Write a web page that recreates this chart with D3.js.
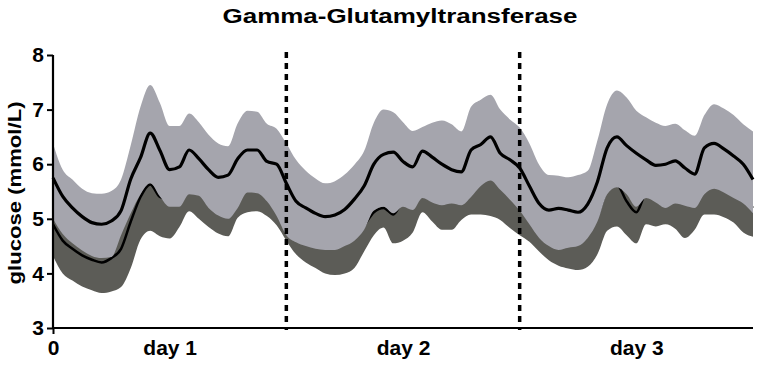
<!DOCTYPE html>
<html>
<head>
<meta charset="utf-8">
<script src="https://cdn.jsdelivr.net/npm/d3@7"></script>
<style>
  body { margin: 0; background: #fff; }
  text { font-family: "Liberation Sans", Arial, sans-serif; font-weight: bold; }
</style>
</head>
<body>
<div id="chart"></div>
<script>
// hours since start, one sample per hour over three days
const hours = d3.range(0, 73);

// upper group: mean with upper/lower band edge (light grey)
const upperHigh = [6.38,5.90,5.72,5.55,5.47,5.46,5.51,5.72,6.35,7.05,7.45,7.12,6.70,6.70,6.93,6.77,6.54,6.38,6.33,6.75,
  6.98,6.96,6.74,6.65,6.38,6.08,5.88,5.74,5.65,5.69,5.81,5.99,6.24,6.76,7.00,6.95,6.77,6.61,6.68,6.76,
  6.80,6.73,6.60,7.05,7.18,7.27,7.00,6.82,6.67,6.38,5.99,5.80,5.79,5.76,5.80,5.88,6.44,7.10,7.35,7.22,
  6.98,6.86,6.76,6.70,6.74,6.62,6.52,6.90,7.10,7.02,6.90,6.73,6.60];
const upperMean = [5.75,5.41,5.20,5.04,4.93,4.90,4.96,5.15,5.73,6.12,6.57,6.25,5.90,5.95,6.26,6.10,5.90,5.76,5.80,6.10,
  6.26,6.26,6.05,6.00,5.65,5.32,5.20,5.10,5.04,5.07,5.17,5.36,5.60,6.00,6.18,6.22,6.05,5.95,6.24,6.13,
  6.00,5.90,5.86,6.26,6.36,6.50,6.20,6.08,5.93,5.60,5.28,5.16,5.19,5.16,5.12,5.27,5.68,6.30,6.50,6.34,
  6.20,6.08,5.98,6.00,6.06,5.93,5.82,6.30,6.38,6.28,6.15,6.00,5.72];
const upperLow = [5.00,4.72,4.55,4.42,4.32,4.28,4.30,4.70,5.10,5.45,5.65,5.41,5.22,5.22,5.45,5.42,5.20,5.06,5.00,5.20,
  5.48,5.47,5.32,5.05,4.70,4.57,4.50,4.45,4.43,4.43,4.50,4.60,4.80,5.15,5.22,5.10,5.22,5.16,5.38,5.30,
  5.25,5.28,5.25,5.40,5.60,5.70,5.53,5.35,5.15,4.90,4.65,4.50,4.43,4.47,4.50,4.65,4.95,5.45,5.58,5.45,
  5.22,5.38,5.30,5.20,5.28,5.24,5.20,5.45,5.55,5.48,5.38,5.28,5.10];

// lower group: mean and lower band edge (dark grey)
const lowerMean = [4.90,4.60,4.45,4.33,4.25,4.20,4.28,4.45,4.95,5.40,5.63,5.40,5.35,5.35,5.55,5.52,5.30,5.15,5.10,5.30,
  5.56,5.56,5.42,5.15,4.80,4.65,4.60,4.55,4.52,4.52,4.58,4.68,4.88,5.12,5.20,5.08,5.30,5.25,5.46,5.40,
  5.35,5.36,5.35,5.50,5.68,5.78,5.62,5.45,5.25,5.00,4.75,4.60,4.53,4.56,4.60,4.75,5.05,5.52,5.62,5.32,
  5.12,5.45,5.40,5.30,5.36,5.32,5.30,5.55,5.64,5.56,5.46,5.36,5.20];
const lowerLow = [4.32,4.00,3.87,3.76,3.69,3.64,3.67,3.75,4.10,4.62,4.78,4.68,4.64,4.85,5.14,5.00,4.85,4.73,4.68,5.02,
  5.12,5.14,5.05,4.88,4.60,4.35,4.20,4.10,4.00,3.97,4.00,4.10,4.40,4.70,4.84,4.55,4.60,4.75,5.12,4.95,
  4.80,4.80,4.98,5.08,5.08,5.05,4.98,4.83,4.70,4.58,4.40,4.24,4.14,4.09,4.06,4.12,4.35,4.78,4.86,4.70,
  4.55,4.90,4.86,4.90,4.82,4.65,4.80,5.08,5.08,5.03,4.93,4.75,4.67];

const yTicks = [3, 4, 5, 6, 7, 8];
const xTickHours = [0, 12, 36, 60];
const xTickLabels = ["0", "day 1", "day 2", "day 3"];
const dayBreaks = [24, 48];

const width = 758, height = 367;
const margin = { left: 53, top: 55, right: 5, bottom: 39 };

const x = d3.scaleLinear().domain([0, 72]).range([margin.left, width - margin.right]);
const y = d3.scaleLinear().domain([3, 8]).range([height - margin.bottom, margin.top]);

const svg = d3.select("#chart").append("svg")
    .attr("width", width)
    .attr("height", height);

const upper = hours.map((h, i) => ({ h, hi: upperHigh[i], m: upperMean[i], lo: upperLow[i] }));
const lower = hours.map((h, i) => ({ h, m: lowerMean[i], lo: lowerLow[i], hi: 2 * lowerMean[i] - lowerLow[i] }));

const curve = d3.curveMonotoneX;
const band = d3.area().x(d => x(d.h)).y0(d => y(d.lo)).y1(d => y(d.hi)).curve(curve);
const line = d3.line().x(d => x(d.h)).y(d => y(d.m)).curve(curve);

// lower group sits behind the upper band
svg.append("path").datum(lower).attr("d", band).attr("fill", "#5c5c57");
svg.append("path").datum(lower).attr("d", line)
    .attr("fill", "none").attr("stroke", "#000").attr("stroke-width", 2.5);
svg.append("path").datum(upper).attr("d", band).attr("fill", "#a5a5ad");
svg.append("path").datum(upper).attr("d", line)
    .attr("fill", "none").attr("stroke", "#000").attr("stroke-width", 3.2);

// day separators
svg.selectAll(".sep")
    .data(dayBreaks)
  .enter().append("line")
    .attr("x1", d => x(d)).attr("x2", d => x(d))
    .attr("y1", 52).attr("y2", y(3) + 2)
    .attr("stroke", "#000")
    .attr("stroke-width", 3.5)
    .attr("stroke-dasharray", "6,5");

// axes
const yAxis = svg.append("g")
    .attr("transform", "translate(" + margin.left + ",0)")
    .call(d3.axisLeft(y).tickValues(yTicks).tickFormat(d3.format("d")).tickSize(6).tickPadding(3));

const xAxis = svg.append("g")
    .attr("transform", "translate(0," + y(3) + ")")
    .call(d3.axisBottom(x).tickValues(xTickHours).tickFormat((d, i) => xTickLabels[i]).tickSize(6).tickPadding(6));

[yAxis, xAxis].forEach(g => {
    g.select(".domain").attr("stroke-width", 2.2).attr("stroke", "#000");
    g.selectAll(".tick line").attr("stroke-width", 2).attr("stroke", "#000");
    g.selectAll("text").attr("font-size", 21).attr("fill", "#000");
});
yAxis.select(".domain").attr("d", "M0," + y(3) + "V" + y(8));
xAxis.select(".domain").attr("d", "M" + x(0) + ",0H" + x(72));
xAxis.selectAll(".tick").filter(d => d !== 0).select("line").remove();

// title and axis label
svg.append("text")
    .attr("x", 400).attr("y", 23)
    .attr("text-anchor", "middle")
    .attr("font-size", 20)
    .attr("textLength", 355).attr("lengthAdjust", "spacingAndGlyphs")
    .text("Gamma-Glutamyltransferase");

svg.append("text")
    .attr("transform", "translate(21," + 193 + ") rotate(-90)")
    .attr("text-anchor", "middle")
    .attr("font-size", 18)
    .attr("textLength", 183).attr("lengthAdjust", "spacingAndGlyphs")
    .text("glucose (mmol/L)");
</script>
</body>
</html>
